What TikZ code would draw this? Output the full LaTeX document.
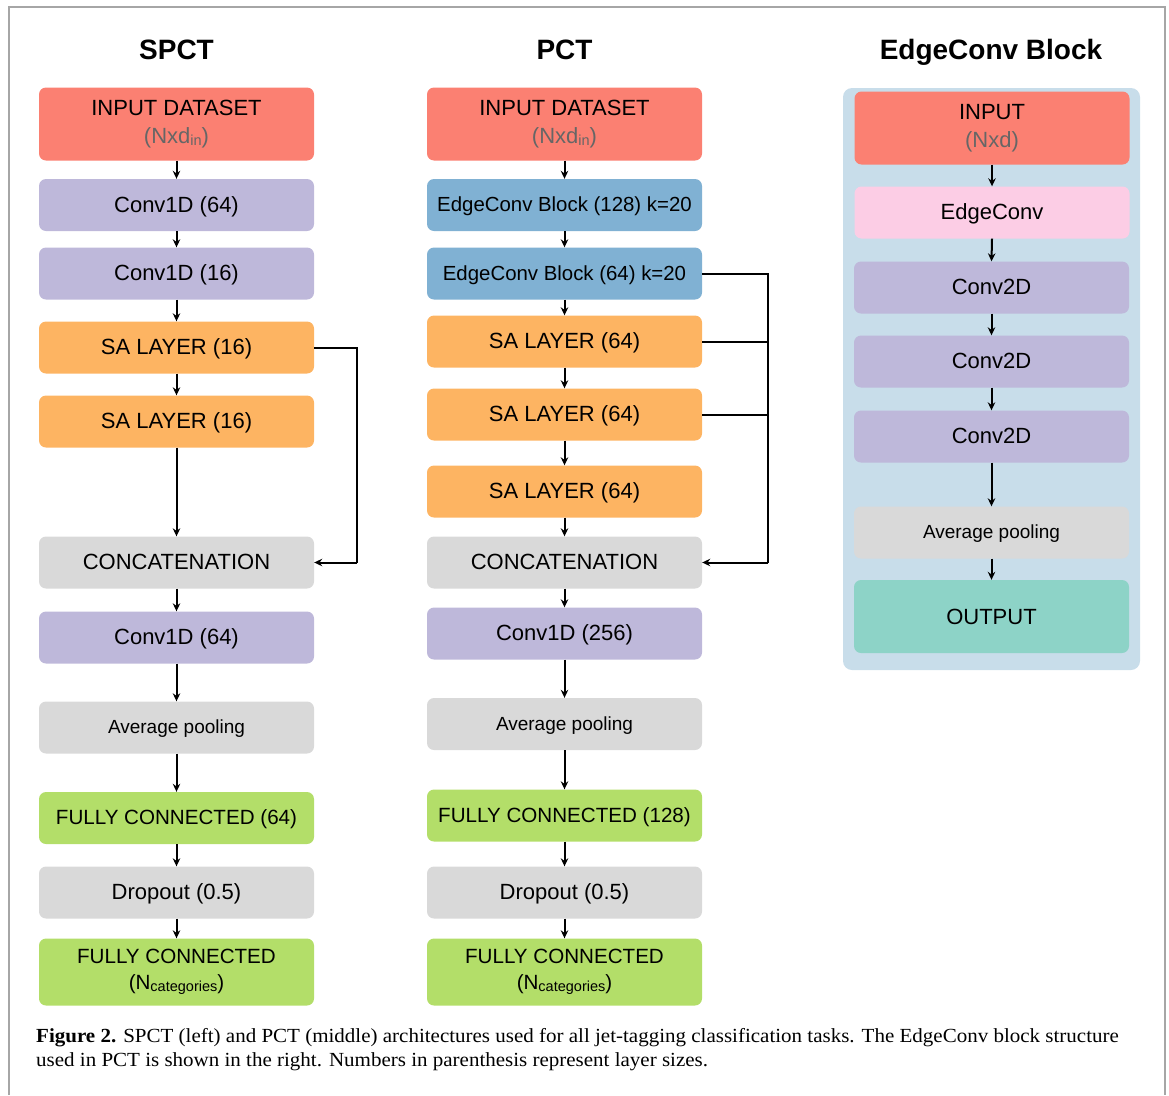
\documentclass[tikz,border=0pt]{standalone}
\usepackage{fontspec}
\setmainfont{Liberation Sans}
\newfontfamily\capfont{Liberation Serif}[FakeStretch=1.05]
\usetikzlibrary{arrows.meta}
\definecolor{cred}{HTML}{FB8072}
\definecolor{cpurple}{HTML}{BEB8DA}
\definecolor{corange}{HTML}{FDB462}
\definecolor{cgray}{HTML}{D9D9D9}
\definecolor{cgreen}{HTML}{B3DE69}
\definecolor{cblue}{HTML}{80B1D3}
\definecolor{cpink}{HTML}{FCCDE5}
\definecolor{cteal}{HTML}{8DD3C7}
\definecolor{cbg}{HTML}{C8DDEA}
\definecolor{csub}{HTML}{666666}
\newcommand{\bigtxt}{\fontsize{22}{25}\selectfont}
\newcommand{\fctxt}{\fontsize{20.6}{24}\selectfont}
\newcommand{\smtxt}{\fontsize{19}{22}\selectfont}
\newcommand{\subtxt}[1]{{\fontsize{14.5}{14.5}\selectfont\raisebox{-2.5pt}{#1}}}
\tikzset{
  layer/.style={rectangle, rounded corners=7pt, draw=none, minimum width=275pt, align=center, inner sep=0pt, font=\bigtxt},
  h52/.style={minimum height=52pt, text depth=1pt},
  h73/.style={minimum height=73pt},
  flow/.style={-{Stealth[length=8pt,width=7.5pt]}, line width=2pt},
  fb/.style={line width=2pt},
  ttl/.style={font=\fontsize{28}{32}\selectfont\bfseries, anchor=base},
}
\begin{document}
\begin{tikzpicture}[x=1pt,y=-1pt]
\useasboundingbox (0,0) rectangle (1169,1095);
\draw[color=black!35, line width=1.5pt] (9,1095) -- (9,7) -- (1165,7) -- (1165,1095);

% titles
\node[ttl] (tA) at (176.5,59) {SPCT};
\node[ttl] (tB) at (564.5,59) {PCT};
\node[ttl] (tC) at (991,59) {EdgeConv Block};

% ---------- SPCT ----------
\node[layer,h73,fill=cred] (s1) at (176.5,124) {INPUT DATASET\\[3pt]{\color{csub}(Nxd\subtxt{in})}};
\node[layer,h52,fill=cpurple] (s2) at (176.5,205) {Conv1D (64)};
\node[layer,h52,fill=cpurple] (s3) at (176.5,273.5) {Conv1D (16)};
\node[layer,h52,fill=corange] (s4) at (176.5,347.5) {SA LAYER (16)};
\node[layer,h52,fill=corange] (s5) at (176.5,421.5) {SA LAYER (16)};
\node[layer,h52,fill=cgray] (s6) at (176.5,562.5) {CONCATENATION};
\node[layer,h52,fill=cpurple] (s7) at (176.5,637.5) {Conv1D (64)};
\node[layer,h52,fill=cgray,font=\smtxt] (s8) at (176.5,727.5) {Average pooling};
\node[layer,h52,fill=cgreen,font=\fctxt] (s9) at (176.5,818) {FULLY CONNECTED (64)};
\node[layer,h52,fill=cgray] (s10) at (176.5,892.5) {Dropout (0.5)};
\node[layer,minimum height=67pt,fill=cgreen,font=\fctxt] (s11) at (176.5,972) {FULLY CONNECTED\\[2pt](N\subtxt{categories})};

\foreach \a/\b in {s1/s2,s2/s3,s3/s4,s4/s5,s5/s6,s6/s7,s7/s8,s8/s9,s9/s10,s10/s11}
  \draw[flow] (\a.south) -- (\b.north);
\coordinate (fa) at (357,0);
\draw[fb] (s4.east) -- (s4.east -| fa) -- (s6.east -| fa);
\draw[flow] (s6.east -| fa) -- (s6.east);

% ---------- PCT ----------
\node[layer,h73,fill=cred] (p1) at (564.5,124) {INPUT DATASET\\[3pt]{\color{csub}(Nxd\subtxt{in})}};
\node[layer,h52,fill=cblue,font=\fontsize{20.4}{23}\selectfont] (p2) at (564.5,205) {EdgeConv Block (128) k=20};
\node[layer,h52,fill=cblue,font=\fontsize{20.4}{23}\selectfont] (p3) at (564.5,273.5) {EdgeConv Block (64) k=20};
\node[layer,h52,fill=corange] (p4) at (564.5,341.5) {SA LAYER (64)};
\node[layer,h52,fill=corange] (p5) at (564.5,414.5) {SA LAYER (64)};
\node[layer,h52,fill=corange] (p6) at (564.5,491.5) {SA LAYER (64)};
\node[layer,h52,fill=cgray] (p7) at (564.5,562.5) {CONCATENATION};
\node[layer,h52,fill=cpurple] (p8) at (564.5,633.5) {Conv1D (256)};
\node[layer,h52,fill=cgray,font=\smtxt] (p9) at (564.5,724) {Average pooling};
\node[layer,h52,fill=cgreen,font=\fctxt] (p10) at (564.5,815.5) {FULLY CONNECTED (128)};
\node[layer,h52,fill=cgray] (p11) at (564.5,892.5) {Dropout (0.5)};
\node[layer,minimum height=67pt,fill=cgreen,font=\fctxt] (p12) at (564.5,972) {FULLY CONNECTED\\[2pt](N\subtxt{categories})};

\foreach \a/\b in {p1/p2,p2/p3,p3/p4,p4/p5,p5/p6,p6/p7,p7/p8,p8/p9,p9/p10,p10/p11,p11/p12}
  \draw[flow] (\a.south) -- (\b.north);
\coordinate (fb) at (768,0);
\draw[fb] (p3.east) -- (p3.east -| fb) -- (p7.east -| fb);
\draw[fb] (p4.east) -- (p4.east -| fb);
\draw[fb] (p5.east) -- (p5.east -| fb);
\draw[flow] (p7.east -| fb) -- (p7.east);

% ---------- EdgeConv Block ----------
\fill[cbg, rounded corners=9pt] (843,88) rectangle (1140,670);
\node[layer,h73,fill=cred] (e1) at (992,128) {INPUT\\[3pt]{\color{csub}(Nxd)}};
\node[layer,h52,fill=cpink] (e2) at (992,212.5) {EdgeConv};
\node[layer,h52,fill=cpurple] (e3) at (991.5,287.5) {Conv2D};
\node[layer,h52,fill=cpurple] (e4) at (991.5,361.5) {Conv2D};
\node[layer,h52,fill=cpurple] (e5) at (991.5,436.5) {Conv2D};
\node[layer,h52,fill=cgray,font=\smtxt] (e6) at (991.5,532.5) {Average pooling};
\node[layer,h73,fill=cteal] (e7) at (991.5,616.5) {OUTPUT};

\foreach \a/\b in {e1/e2,e2/e3,e3/e4,e4/e5,e5/e6,e6/e7}
  \draw[flow] (\a.south) -- (\b.north);

% caption
\node[anchor=base west, inner sep=0pt, font=\capfont\fontsize{20}{23}\selectfont] (cap1) at (36,1042)
  {\textbf{Figure 2.} SPCT (left) and PCT (middle) architectures used for all jet-tagging classification tasks. The EdgeConv block structure};
\node[anchor=base west, inner sep=0pt, font=\capfont\fontsize{20}{23}\selectfont] (cap2) at (36,1066)
  {used in PCT is shown in the right. Numbers in parenthesis represent layer sizes.};
\end{tikzpicture}
\end{document}
